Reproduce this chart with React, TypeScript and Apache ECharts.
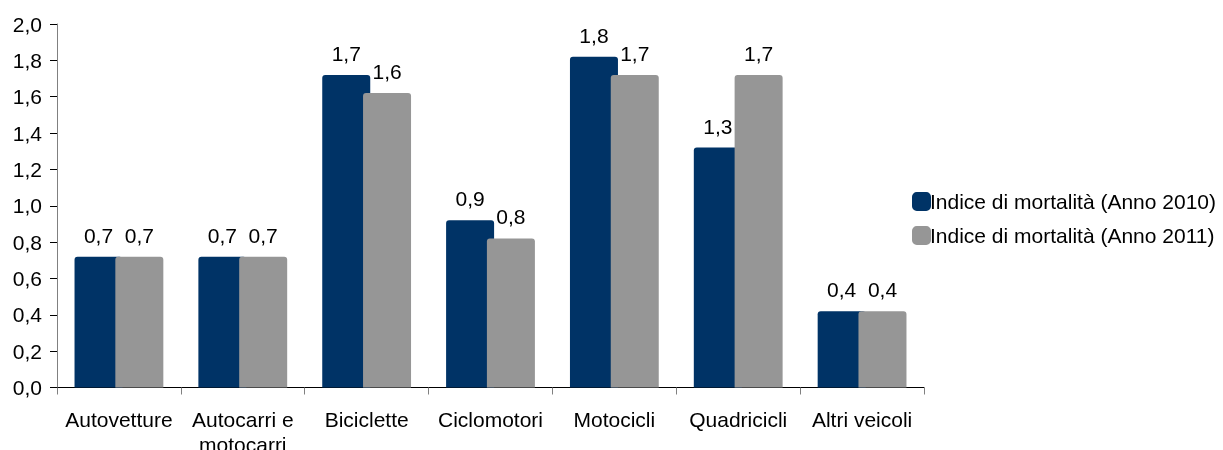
import React, { useEffect, useRef } from "react";
import * as echarts from "echarts";

const categories = ["Autovetture", "Autocarri e\nmotocarri", "Biciclette", "Ciclomotori", "Motocicli", "Quadricicli", "Altri veicoli"];
const values2010 = [0.72, 0.72, 1.72, 0.92, 1.82, 1.32, 0.42];
const values2011 = [0.72, 0.72, 1.62, 0.82, 1.72, 1.72, 0.42];
const labels2010 = ["0,7", "0,7", "1,7", "0,9", "1,8", "1,3", "0,4"];
const labels2011 = ["0,7", "0,7", "1,6", "0,8", "1,7", "1,7", "0,4"];
const seriesNames = ["Indice di mortalità (Anno 2010)", "Indice di mortalità (Anno 2011)"];
const yTickLabels = ["0,0", "0,2", "0,4", "0,6", "0,8", "1,0", "1,2", "1,4", "1,6", "1,8", "2,0"];

const FONT = "'Liberation Sans', Arial, sans-serif";
const FS = 21;

export default function App() {
  const ref = useRef<HTMLDivElement>(null);
  useEffect(() => {
    if (!ref.current) return;
    const chart = echarts.init(ref.current, undefined, { renderer: "svg" });
    const mkSeries = (name: string, vals: number[], labs: string[], color: string) => ({
      name,
      type: "bar",
      data: vals,
      barWidth: 48,
      barGap: "-15%",
      itemStyle: { color, borderRadius: [3, 3, 0, 0] },
      label: {
        show: true,
        position: "top",
        distance: 11,
        fontFamily: FONT,
        fontSize: FS,
        color: "#000",
        formatter: (p: any) => labs[p.dataIndex],
      },
    });
    chart.setOption({
      animation: false,
      textStyle: { fontFamily: FONT },
      grid: { left: 57, top: 24, right: 299, bottom: 62.5, outerBoundsMode: "none", containLabel: false },
      legend: {
        orient: "vertical",
        left: 907,
        top: 186,
        itemWidth: 19,
        itemHeight: 19,
        itemGap: 13,
        icon: "roundRect",
        textStyle: { fontFamily: FONT, fontSize: FS, color: "#000", padding: [0, 0, 0, -6] },
        data: seriesNames,
      },
      xAxis: {
        type: "category",
        data: categories,
        axisLine: { lineStyle: { color: "#000", width: 1 } },
        axisTick: { show: true, length: 7, lineStyle: { color: "#808080" } },
        axisLabel: { fontFamily: FONT, fontSize: FS, color: "#000", margin: 19, interval: 0, lineHeight: 25 },
      },
      yAxis: {
        type: "value",
        min: 0,
        max: 2,
        interval: 0.2,
        splitLine: { show: false },
        axisLine: { show: true, lineStyle: { color: "#808080", width: 1 } },
        axisTick: { show: true, length: 7, lineStyle: { color: "#000" } },
        axisLabel: {
          fontFamily: FONT,
          fontSize: FS,
          color: "#000",
          margin: 15,
          formatter: (v: number) => yTickLabels[Math.round(v / 0.2)],
        },
      },
      series: [
        mkSeries(seriesNames[0], values2010, labels2010, "#003366"),
        mkSeries(seriesNames[1], values2011, labels2011, "#969696"),
      ],
    });
    return () => chart.dispose();
  }, []);
  return <div ref={ref} style={{ position: "fixed", left: 0, top: 0, width: 1223, height: 450 }} />;
}
